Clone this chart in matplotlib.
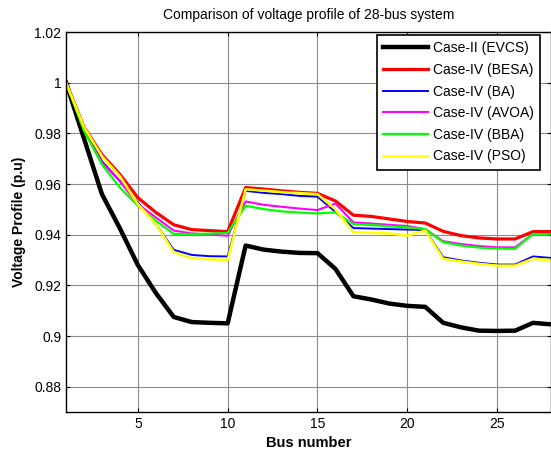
import numpy as np
import matplotlib
matplotlib.use('Agg')
import matplotlib.pyplot as plt
from matplotlib.ticker import FuncFormatter

plt.rcParams['font.family'] = ['Liberation Sans', 'DejaVu Sans']

bus = np.arange(1, 29)

evcs = [1.000, 0.978, 0.956, 0.9425, 0.928, 0.917, 0.9075, 0.9055, 0.9052, 0.905,
        0.9357, 0.9341, 0.9333, 0.9328, 0.9327, 0.9265, 0.9157, 0.9144, 0.9128, 0.9119,
        0.9115, 0.9052, 0.9034, 0.9021, 0.902, 0.9021, 0.9052, 0.9046]
besa = [1.000, 0.9825, 0.9716, 0.9638, 0.9546, 0.9488, 0.9439, 0.942, 0.9416, 0.9412,
        0.9586, 0.958, 0.9573, 0.9567, 0.9563, 0.9533, 0.9477, 0.9472, 0.9462, 0.9452,
        0.9446, 0.9413, 0.9396, 0.9387, 0.9383, 0.9383, 0.9412, 0.9412]
ba = [1.000, 0.982, 0.969, 0.9612, 0.9527, 0.9442, 0.934, 0.932, 0.9315, 0.9314,
      0.9573, 0.9565, 0.956, 0.9553, 0.955, 0.949, 0.9426, 0.9424, 0.9422, 0.942,
      0.9418, 0.9311, 0.9298, 0.9289, 0.9282, 0.9282, 0.9314, 0.9308]
avoa = [1.000, 0.9815, 0.9685, 0.961, 0.952, 0.9468, 0.9416, 0.9405, 0.940, 0.9396,
        0.9531, 0.9518, 0.951, 0.9503, 0.9497, 0.9523, 0.9448, 0.9444, 0.9439, 0.9434,
        0.9422, 0.9374, 0.9363, 0.9355, 0.935, 0.935, 0.9403, 0.9403]
bba = [1.000, 0.981, 0.9677, 0.9586, 0.9514, 0.9455, 0.9403, 0.9403, 0.9404, 0.9407,
       0.9514, 0.9501, 0.9492, 0.9487, 0.9484, 0.9488, 0.9442, 0.9438, 0.9433, 0.9429,
       0.9422, 0.937, 0.9357, 0.9349, 0.9345, 0.9344, 0.9403, 0.9401]
pso = [1.000, 0.9825, 0.971, 0.9631, 0.952, 0.9442, 0.9331, 0.9307, 0.9303, 0.930,
       0.9579, 0.9574, 0.9568, 0.9564, 0.956, 0.950, 0.9409, 0.9407, 0.9405, 0.9396,
       0.9416, 0.9305, 0.9294, 0.9285, 0.9278, 0.9278, 0.9305, 0.930]

series = [
    ('Case-II (EVCS)', evcs, 'black', 3.2),
    ('Case-IV (BESA)', besa, 'red', 2.3),
    ('Case-IV (BA)', ba, 'blue', 1.4),
    ('Case-IV (AVOA)', avoa, 'magenta', 1.5),
    ('Case-IV (BBA)', bba, 'lime', 1.6),
    ('Case-IV (PSO)', pso, 'yellow', 1.8),
]

fig = plt.figure(figsize=(5.51, 4.55), dpi=100)
ax = fig.add_axes([66 / 551, 1 - 412 / 455, 485 / 551, 380 / 455])

for label, vals, col, lw in series:
    ax.plot(bus, vals, color=col, lw=lw, label=label)

ax.set_xlim(1, 28)
ax.set_ylim(0.87, 1.02)
ax.set_xticks([5, 10, 15, 20, 25])
ax.set_yticks(np.arange(0.88, 1.021, 0.02))
ax.yaxis.set_major_formatter(FuncFormatter(lambda v, p: '%g' % round(v, 2)))
ax.tick_params(direction='in', length=3, top=True, right=True, labelsize=10, colors='black')
ax.grid(True, color='0.55', lw=0.8)
for s in ax.spines.values():
    s.set_linewidth(1.0)

ax.set_title('Comparison of voltage profile of 28-bus system', fontsize=10, pad=9)
ax.set_xlabel('Bus number', fontsize=10.5, fontweight='bold', labelpad=4)
ax.set_ylabel('Voltage Profile (p.u)', fontsize=10, fontweight='bold', labelpad=6)

leg = ax.legend(loc='upper left', bbox_to_anchor=((377 - 66) / 485, (412 - 35) / 380),
                borderaxespad=0, fontsize=10, fancybox=False, framealpha=1,
                edgecolor='black', handlelength=3.2, labelspacing=0.55,
                handletextpad=0.4, borderpad=0.45)
leg.get_frame().set_linewidth(1.2)

fig.savefig('out.png', dpi=100)
